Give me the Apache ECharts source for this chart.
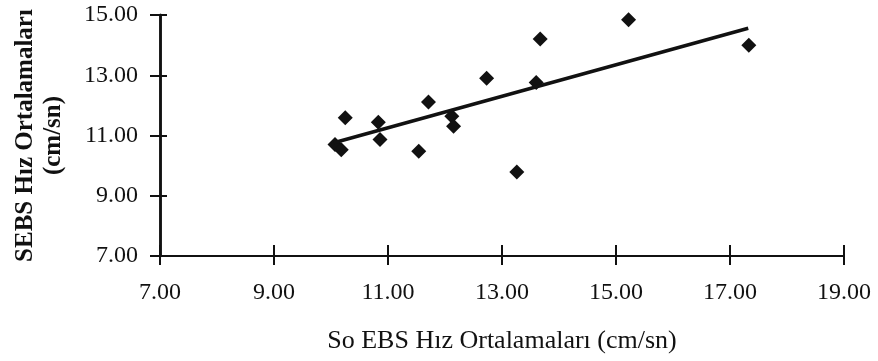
<!DOCTYPE html>
<html>
<head>
<meta charset="utf-8">
<script src="https://cdn.jsdelivr.net/npm/echarts@6/dist/echarts.min.js"></script>
<style>
html,body{margin:0;padding:0;background:#fff;}
#chart{width:878px;height:361px;}
</style>
</head>
<body>
<div id="chart"></div>
<script>
var xValues = [10.07, 10.18, 10.25, 10.83, 10.86, 11.54, 11.71, 12.12, 12.15, 12.73, 13.26, 13.60, 13.67, 15.22, 17.33];
var yValues = [10.70, 10.53, 11.59, 11.44, 10.87, 10.48, 12.11, 11.64, 11.31, 12.90, 9.79, 12.76, 14.20, 14.84, 14.00];
var trendX = [10.05, 17.32];
var trendY = [10.76, 14.56];
var xTicks = [7, 9, 11, 13, 15, 17, 19];
var yTicks = [7, 9, 11, 13, 15];
var xTitle = 'So EBS Hız Ortalamaları (cm/sn)';
var yTitle = 'SEBS Hız Ortalamaları\n(cm/sn)';

var FONT = '"Liberation Serif", "Times New Roman", serif';
var INK = '#111';

var points = xValues.map(function (x, i) { return [x, yValues[i]]; });
var trend = trendX.map(function (x, i) { return [x, trendY[i]]; });

var chart = echarts.init(document.getElementById('chart'), null, {renderer: 'canvas'});

function fmt(v) { return v.toFixed(2); }

var gridBox = {left: 160, right: 34, top: 15, bottom: 105};

chart.setOption({
  animation: false,
  backgroundColor: '#fff',
  grid: [gridBox, gridBox],
  xAxis: [{
    gridIndex: 0,
    type: 'value', min: xTicks[0], max: xTicks[xTicks.length - 1], interval: 2,
    position: 'bottom',
    name: xTitle, nameLocation: 'middle', nameGap: 72,
    nameTextStyle: {fontFamily: FONT, fontSize: 26, color: INK},
    axisLine: {show: true, onZero: false, lineStyle: {color: INK, width: 2}},
    axisTick: {show: true, length: 9, lineStyle: {color: INK, width: 2}},
    axisLabel: {fontFamily: FONT, fontSize: 24, color: INK, margin: 25, formatter: fmt},
    splitLine: {show: false}
  }, {
    gridIndex: 1,
    type: 'value', min: xTicks[0], max: xTicks[xTicks.length - 1], interval: 2,
    position: 'bottom',
    axisLine: {show: true, onZero: false, lineStyle: {color: INK, width: 2}},
    axisTick: {show: true, inside: true, length: 11, lineStyle: {color: INK, width: 2}},
    axisLabel: {show: false},
    splitLine: {show: false}
  }],
  yAxis: [{
    gridIndex: 0,
    type: 'value', min: yTicks[0], max: yTicks[yTicks.length - 1], interval: 2,
    position: 'left',
    name: yTitle, nameLocation: 'middle', nameRotate: 90, nameGap: 92,
    nameTextStyle: {fontFamily: FONT, fontSize: 25, fontWeight: 'bold', color: INK, lineHeight: 28, align: 'center'},
    axisLine: {show: true, onZero: false, lineStyle: {color: INK, width: 2.5}},
    axisTick: {show: true, length: 10, lineStyle: {color: INK, width: 2}},
    axisLabel: {fontFamily: FONT, fontSize: 24, color: INK, margin: 22, formatter: fmt},
    splitLine: {show: false}
  }, {
    gridIndex: 1,
    type: 'value', min: yTicks[0], max: yTicks[yTicks.length - 1], interval: 2,
    position: 'left',
    axisLine: {show: true, onZero: false, lineStyle: {color: INK, width: 2.5}},
    axisTick: {show: true, inside: true, length: 7, lineStyle: {color: INK, width: 2}},
    axisLabel: {show: false},
    splitLine: {show: false}
  }],
  series: [{
    type: 'scatter',
    xAxisIndex: 0, yAxisIndex: 0,
    data: points,
    symbol: 'diamond',
    symbolSize: 15,
    itemStyle: {color: INK, opacity: 1},
    z: 2
  }, {
    type: 'line',
    xAxisIndex: 1, yAxisIndex: 1,
    data: trend,
    symbol: 'none',
    lineStyle: {color: INK, width: 3.5},
    z: 3
  }]
});
</script>
</body>
</html>
